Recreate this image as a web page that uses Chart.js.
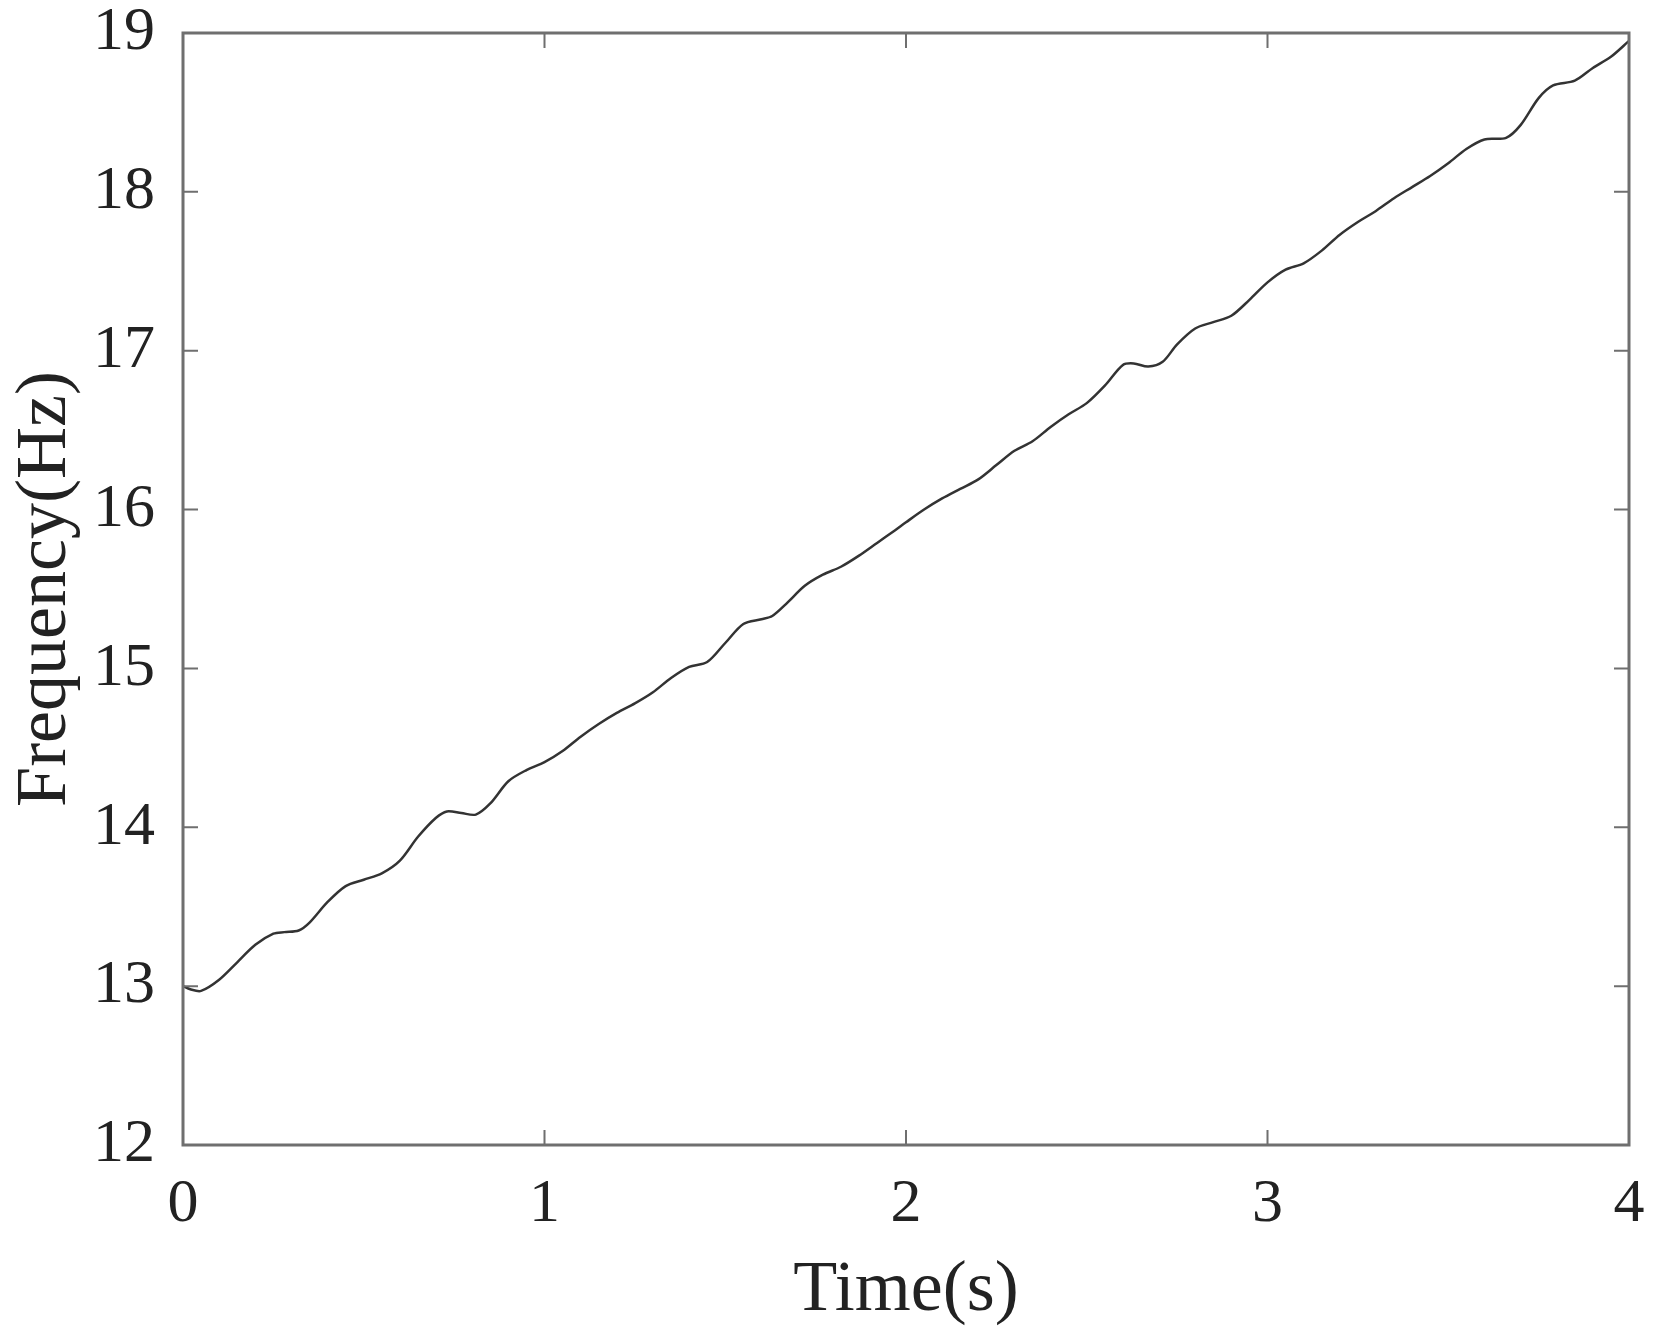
<!DOCTYPE html>
<html>
<head>
<meta charset="utf-8">
<script src="https://cdn.jsdelivr.net/npm/chart.js@4"></script>
<style>
    body { margin: 0; background: #ffffff; }
    #chart-container { width: 1660px; height: 1344px; }
</style>
</head>
<body>
<div id="chart-container">
    <canvas id="freq-chart"></canvas>
</div>
<script>
// Values
const timeS = [0, 0.02, 0.05, 0.1, 0.15, 0.2, 0.25, 0.28, 0.32, 0.35, 0.4, 0.45, 0.5, 0.55, 0.6, 0.65, 0.7, 0.73, 0.77, 0.81, 0.85, 0.9, 0.95,
    1.0, 1.05, 1.1, 1.15, 1.2, 1.25, 1.3, 1.35, 1.4, 1.45, 1.5, 1.55, 1.6, 1.63, 1.67, 1.72, 1.77, 1.82, 1.87, 1.92, 1.97,
    2.0, 2.05, 2.1, 2.15, 2.2, 2.25, 2.3, 2.35, 2.4, 2.45, 2.5, 2.55, 2.6, 2.63, 2.67, 2.71, 2.75, 2.8, 2.85, 2.9, 2.95,
    3.0, 3.05, 3.1, 3.15, 3.2, 3.25, 3.3, 3.35, 3.4, 3.45, 3.5, 3.55, 3.6, 3.66, 3.7, 3.75, 3.79, 3.85, 3.9, 3.95, 4.0];

const freqHz = [13.00, 12.98, 12.97, 13.04, 13.15, 13.26, 13.33, 13.34, 13.35, 13.40, 13.53, 13.63, 13.67, 13.71, 13.79, 13.94, 14.06, 14.10, 14.09, 14.08, 14.15, 14.29, 14.36,
    14.41, 14.48, 14.57, 14.65, 14.72, 14.78, 14.85, 14.94, 15.01, 15.04, 15.16, 15.28, 15.31, 15.33, 15.41, 15.52, 15.59, 15.64, 15.71, 15.79, 15.87,
    15.92, 16.00, 16.07, 16.13, 16.19, 16.28, 16.37, 16.43, 16.52, 16.60, 16.67, 16.78, 16.91, 16.92, 16.90, 16.93, 17.04, 17.14, 17.18, 17.22, 17.32,
    17.43, 17.51, 17.55, 17.63, 17.73, 17.81, 17.88, 17.96, 18.03, 18.10, 18.18, 18.27, 18.33, 18.34, 18.42, 18.59, 18.67, 18.70, 18.78, 18.85, 18.95];

const xTicks = [0, 1, 2, 3, 4];
const yTicks = [12, 13, 14, 15, 16, 17, 18, 19];

const frameColor = '#6f6f6f';
const tickFont = { family: '"Liberation Serif", "Times New Roman", serif', size: 62 };
const titleFont = { family: '"Liberation Serif", "Times New Roman", serif', size: 72 };

// MATLAB style box with inward ticks on all four sides
const boxPlugin = {
    id: 'boxTicks',
    afterDatasetsDraw(chart) {
        const ctx = chart.ctx;
        const area = chart.chartArea;
        const x = chart.scales.x;
        const y = chart.scales.y;
        const len = 15;

        ctx.save();
        ctx.strokeStyle = frameColor;
        ctx.lineWidth = 2;

        ctx.beginPath();
        x.ticks.forEach(t => {
            const px = x.getPixelForValue(t.value);
            ctx.moveTo(px, area.bottom);
            ctx.lineTo(px, area.bottom - len);
            ctx.moveTo(px, area.top);
            ctx.lineTo(px, area.top + len);
        });
        y.ticks.forEach(t => {
            const py = y.getPixelForValue(t.value);
            ctx.moveTo(area.left, py);
            ctx.lineTo(area.left + len, py);
            ctx.moveTo(area.right, py);
            ctx.lineTo(area.right - len, py);
        });
        ctx.stroke();

        ctx.lineWidth = 3;
        ctx.strokeRect(area.left, area.top, area.right - area.left, area.bottom - area.top);
        ctx.restore();
    }
};

const ctx = document.getElementById('freq-chart');

new Chart(ctx, {
    type: 'line',
    data: {
        datasets: [
            {
                label: 'Frequency',
                data: timeS.map((t, i) => ({ x: t, y: freqHz[i] })),
                borderColor: '#333333',
                borderWidth: 2.5,
                pointRadius: 0,
                tension: 0.3,
                fill: false
            }
        ]
    },
    options: {
        responsive: true,
        maintainAspectRatio: false,
        animation: false,
        layout: {
            padding: { left: 0, top: 33, right: 31, bottom: 0 }
        },
        plugins: {
            legend: { display: false },
            tooltip: { enabled: false }
        },
        scales: {
            x: {
                type: 'linear',
                min: xTicks[0],
                max: xTicks[xTicks.length - 1],
                afterBuildTicks: scale => { scale.ticks = xTicks.map(v => ({ value: v })); },
                afterFit: scale => {
                    scale.height = 199;
                    scale.paddingLeft = 0;
                    scale.paddingRight = 0;
                },
                grid: { display: false, drawTicks: false },
                border: { display: false },
                ticks: {
                    color: '#222222',
                    font: tickFont,
                    padding: 23,
                    maxRotation: 0
                },
                title: {
                    display: true,
                    text: 'Time(s)',
                    color: '#222222',
                    font: titleFont,
                    padding: { top: 0, bottom: 10 }
                }
            },
            y: {
                type: 'linear',
                min: yTicks[0],
                max: yTicks[yTicks.length - 1],
                afterBuildTicks: scale => { scale.ticks = yTicks.map(v => ({ value: v })); },
                afterFit: scale => {
                    scale.width = 183;
                    scale.paddingTop = 0;
                    scale.paddingBottom = 0;
                },
                grid: { display: false, drawTicks: false },
                border: { display: false },
                ticks: {
                    color: '#222222',
                    font: tickFont,
                    padding: 28
                },
                title: {
                    display: true,
                    text: 'Frequency(Hz)',
                    color: '#222222',
                    font: titleFont,
                    padding: { top: 3, bottom: 0 }
                }
            }
        }
    },
    plugins: [boxPlugin]
});
</script>
</body>
</html>
